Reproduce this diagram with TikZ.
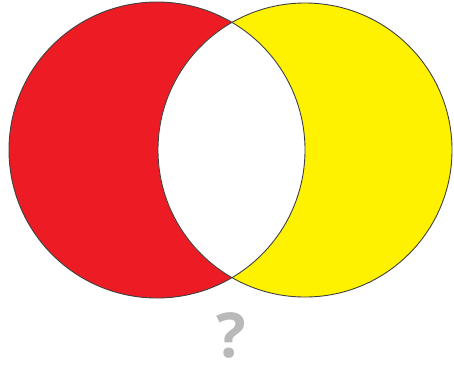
\documentclass[tikz,border=0pt]{standalone}
\usepackage{fontspec}
\setsansfont{Open Sans}
\usepackage{tikz}
\usetikzlibrary{positioning}
\definecolor{cRed}{HTML}{ED1C24}
\definecolor{cYellow}{HTML}{FFF200}
\definecolor{cGray}{HTML}{B9B9B9}

\begin{document}
\begin{tikzpicture}[x=1pt, y=-1pt,
  setA/.style={fill=cRed},
  setB/.style={fill=cYellow},
  rim/.style={draw=black!75, line width=0.9pt},
  qmark/.style={text=cGray, font=\sffamily\bfseries\fontsize{62}{62}\selectfont, inner sep=0pt}]
  \useasboundingbox (0,0) rectangle (454,368);

  \coordinate (cA) at (157,150);
  \coordinate (cB) at (305,150);

  \fill[setA] (cA) circle (148);
  \fill[setB] (cB) circle (147);
  \begin{scope}
    \clip (cA) circle (148);
    \fill[white] (cB) circle (147);
  \end{scope}
  \draw[rim] (cA) circle (148);
  \draw[rim] (cB) circle (147);

  \node[qmark, anchor=base] (ask) at (231,357) {?};
\end{tikzpicture}
\end{document}
